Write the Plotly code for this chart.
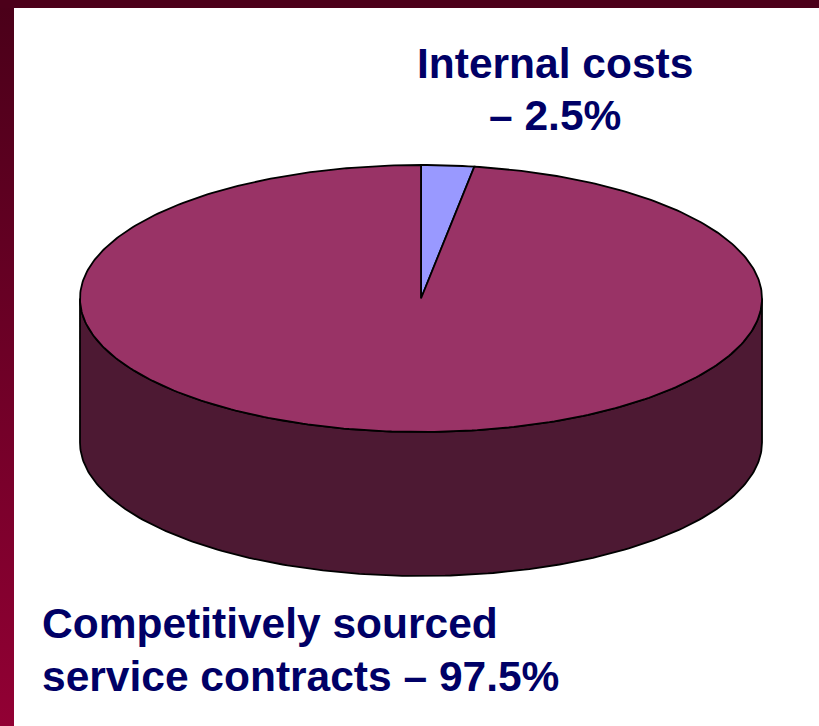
import numpy as np
import plotly.graph_objects as go

# Budget split
labels = ["Internal costs", "Competitively sourced service contracts"]
shares = [2.5, 97.5]
label_lines = [["Internal costs", "\u2013 2.5%"],
               ["Competitively sourced", "service contracts \u2013 97.5%"]]

W, H = 819, 726
CX, CY, RX, RY, DEPTH = 421, 298.5, 341, 133.5, 144
TOP_COLORS = ["#9999FF", "#993366"]
SIDE_COLOR = "#4D1933"
TEXT_COLOR = "#000066"
FONT = "Liberation Sans, Arial, sans-serif"
FSIZE = 42.5

fig = go.Figure()

# Frame: left band lightening downward, dark band across the top
fig.add_trace(go.Scatter(
    x=[0, 14, 14, 0, 0], y=[0, 0, H, H, 0], mode="lines", fill="toself",
    line=dict(width=0), hoverinfo="skip", showlegend=False,
    fillgradient=dict(type="vertical", start=0, stop=H,
                      colorscale=[[0, "#4A0019"], [1, "#920034"]])))
fig.add_trace(go.Scatter(
    x=[0, W, W, 0, 0], y=[0, 0, 8, 8, 0], mode="lines", fill="toself",
    fillcolor="#4C001A", line=dict(width=0), hoverinfo="skip", showlegend=False))


def ellipse_pt(theta, dy=0.0):
    # theta measured clockwise from 12 o'clock
    return CX + RX * np.sin(theta), CY - RY * np.cos(theta) + dy


# Visible side wall (front half of the cylinder)
t_front = np.linspace(np.pi * 1.5, np.pi * 0.5, 200)
xs_top, ys_top = ellipse_pt(t_front)
xs_bot, ys_bot = ellipse_pt(t_front[::-1], DEPTH)
side_x = np.concatenate([xs_top, xs_bot, xs_top[:1]])
side_y = np.concatenate([ys_top, ys_bot, ys_top[:1]])
fig.add_trace(go.Scatter(x=side_x, y=side_y, mode="lines", fill="toself",
                         fillcolor=SIDE_COLOR, line=dict(color="black", width=1.8),
                         hoverinfo="skip", showlegend=False))

# Top face slices, clockwise from 12 o'clock
cum = np.concatenate([[0], np.cumsum(shares)]) / sum(shares) * 2 * np.pi
for i, lab in enumerate(labels):
    t = np.linspace(cum[i], cum[i + 1], max(int(400 * shares[i] / 100), 8))
    ex, ey = ellipse_pt(t)
    px = np.concatenate([[CX], ex, [CX]])
    py = np.concatenate([[CY], ey, [CY]])
    fig.add_trace(go.Scatter(x=px, y=py, mode="lines", fill="toself",
                             fillcolor=TOP_COLORS[i], line=dict(color="black", width=1.8),
                             name=lab, hoverinfo="name", showlegend=False))

# Labels
font = dict(family=FONT, size=FSIZE, color=TEXT_COLOR)
fig.add_annotation(x=555, y=63, text=f"<b>{label_lines[0][0]}</b>", showarrow=False,
                   xanchor="center", yanchor="middle", font=font)
fig.add_annotation(x=555, y=115, text=f"<b>{label_lines[0][1]}</b>", showarrow=False,
                   xanchor="center", yanchor="middle", font=font)
fig.add_annotation(x=40, y=623, text=f"<b>{label_lines[1][0]}</b>", showarrow=False,
                   xanchor="left", yanchor="middle", font=font)
fig.add_annotation(x=40, y=676, text=f"<b>{label_lines[1][1]}</b>", showarrow=False,
                   xanchor="left", yanchor="middle", font=font)

fig.update_layout(
    width=W, height=H, margin=dict(l=0, r=0, t=0, b=0),
    paper_bgcolor="white", plot_bgcolor="white",
    xaxis=dict(range=[0, W], visible=False, fixedrange=True),
    yaxis=dict(range=[H, 0], visible=False, fixedrange=True),
)

fig.write_html("out.html")
